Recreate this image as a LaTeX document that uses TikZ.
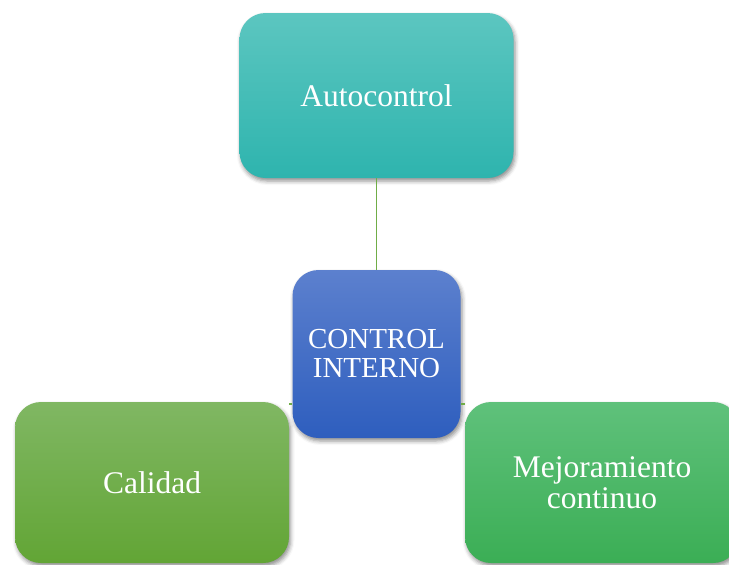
\documentclass[tikz,border=0pt]{standalone}
\usepackage{fontspec}
\setmainfont{Liberation Serif}
\usetikzlibrary{shadows.blur}
\definecolor{tealTop}{HTML}{5CC6C0}
\definecolor{tealBot}{HTML}{2EB4AE}
\definecolor{blueTop}{HTML}{5C80CE}
\definecolor{blueBot}{HTML}{2E5EBE}
\definecolor{calTop}{HTML}{80B763}
\definecolor{calBot}{HTML}{62A535}
\definecolor{mejTop}{HTML}{5FC17B}
\definecolor{mejBot}{HTML}{3BAE55}
\definecolor{lineGreen}{HTML}{70AD47}
\begin{document}
\begin{tikzpicture}[x=1pt,y=-1pt,
  box/.style={rounded corners=26pt, text=white, align=center, inner sep=0pt,
    font=\fontsize{31.5pt}{31pt}\selectfont,
    blur shadow={shadow xshift=1.5pt, shadow yshift=-3pt, shadow blur radius=4pt, shadow opacity=45}},
  conn/.style={draw=lineGreen, line width=1.5pt}]
\useasboundingbox (0,0) rectangle (729,565);
\clip (0,0) rectangle (729,565);
\node[box, minimum width=274pt, minimum height=165pt, top color=tealTop, bottom color=tealBot] (auto) at (376.5,95.5) {Autocontrol};
\node[box, minimum width=274pt, minimum height=161pt, top color=calTop, bottom color=calBot] (cal) at (152,482.5) {Calidad};
\node[box, minimum width=274pt, minimum height=161pt, top color=mejTop, bottom color=mejBot] (mej) at (602,482.5) {Mejoramiento\\continuo};
\node[box, minimum width=168pt, minimum height=168pt, top color=blueTop, bottom color=blueBot, font=\fontsize{29pt}{29pt}\selectfont] (ctl) at (376.5,354) {CONTROL\\INTERNO};
\draw[conn] (auto.south) -- (ctl.north);
\draw[conn] ([yshift=-2pt]cal.north east) -- ([yshift=-2pt]cal.north east -| ctl.west);
\draw[conn] ([yshift=-2pt]mej.north west) -- ([yshift=-2pt]mej.north west -| ctl.east);
\end{tikzpicture}
\end{document}
